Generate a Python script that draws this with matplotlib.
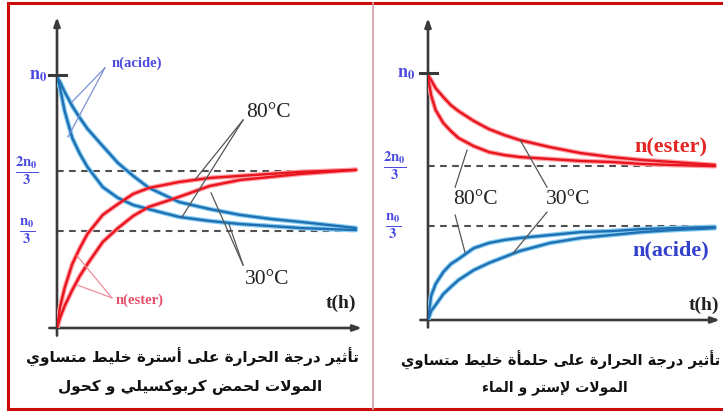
import numpy as np
import matplotlib
matplotlib.use('Agg')
import matplotlib.pyplot as plt

plt.rcParams['mathtext.fontset'] = 'stix'

# time grid (h) shared by the curves of each panel
t_left = [0, 0.1, 0.25, 0.5, 0.75, 1, 1.5, 2, 2.5, 3, 4, 5, 6, 7, 8, 9.8]
acide_30 = [0.992, 0.972, 0.933, 0.877, 0.830, 0.787, 0.719, 0.652, 0.601, 0.555, 0.498, 0.470, 0.447, 0.431, 0.419, 0.395]
acide_80 = [0.988, 0.949, 0.858, 0.751, 0.688, 0.636, 0.557, 0.514, 0.486, 0.470, 0.439, 0.423, 0.411, 0.403, 0.395, 0.387]
ester_80 = [0, 0.083, 0.158, 0.253, 0.316, 0.372, 0.447, 0.490, 0.530, 0.553, 0.577, 0.593, 0.601, 0.609, 0.617, 0.625]
ester_30 = [0, 0.040, 0.087, 0.150, 0.206, 0.253, 0.340, 0.395, 0.443, 0.478, 0.518, 0.561, 0.585, 0.597, 0.609, 0.625]

t_right = [0, 0.1, 0.25, 0.5, 0.75, 1, 1.5, 2, 2.5, 3, 4, 5, 6, 7, 8, 9.4]
hyd_ester_80 = [0.984, 0.911, 0.850, 0.798, 0.765, 0.737, 0.704, 0.680, 0.668, 0.660, 0.652, 0.644, 0.640, 0.632, 0.628, 0.623]
hyd_ester_30 = [0.992, 0.972, 0.939, 0.903, 0.870, 0.846, 0.806, 0.773, 0.749, 0.729, 0.700, 0.676, 0.660, 0.648, 0.640, 0.628]
hyd_acide_80 = [0, 0.097, 0.146, 0.194, 0.227, 0.247, 0.291, 0.312, 0.324, 0.332, 0.344, 0.356, 0.360, 0.368, 0.372, 0.377]
hyd_acide_30 = [0, 0.036, 0.061, 0.105, 0.134, 0.162, 0.202, 0.231, 0.255, 0.279, 0.312, 0.332, 0.344, 0.356, 0.364, 0.372]

# levels as drawn: n0/3, 2n0/3, n0
levels_left = [0.383, 0.620, 1.0]
levels_right = [0.381, 0.623, 1.0]
level_labels = [r'$\frac{\mathbf{n_0}}{\mathbf{3}}$', r'$\frac{\mathbf{2n_0}}{\mathbf{3}}$', r'$\mathbf{n_0}$']

caption_left = ['تأثير درجة الحرارة على أسترة خليط متساوي', 'المولات لحمض كربوكسيلي و كحول']
caption_right = ['تأثير درجة الحرارة على حلمأة خليط متساوي', 'المولات لإستر و الماء']

# --- minimal arabic shaping (matplotlib does no shaping / rtl) ---
FOUR = {'ئ': 0xFE89, 'ب': 0xFE8F, 'ت': 0xFE95, 'ث': 0xFE99, 'ج': 0xFE9D, 'ح': 0xFEA1,
        'خ': 0xFEA5, 'س': 0xFEB1, 'ش': 0xFEB5, 'ص': 0xFEB9, 'ض': 0xFEBD, 'ط': 0xFEC1,
        'ظ': 0xFEC5, 'ع': 0xFEC9, 'غ': 0xFECD, 'ف': 0xFED1, 'ق': 0xFED5, 'ك': 0xFED9,
        'ل': 0xFEDD, 'م': 0xFEE1, 'ن': 0xFEE5, 'ه': 0xFEE9, 'ي': 0xFEF1}
TWO = {'آ': 0xFE81, 'أ': 0xFE83, 'ؤ': 0xFE85, 'إ': 0xFE87, 'ا': 0xFE8D, 'ة': 0xFE93,
       'د': 0xFEA9, 'ذ': 0xFEAB, 'ر': 0xFEAD, 'ز': 0xFEAF, 'و': 0xFEED, 'ى': 0xFEEF}
LAMALEF = {'آ': 0xFEF5, 'أ': 0xFEF7, 'إ': 0xFEF9, 'ا': 0xFEFB}


def shape(s):
    toks = []
    i = 0
    while i < len(s):
        if s[i] == 'ل' and i + 1 < len(s) and s[i + 1] in LAMALEF:
            toks.append('L' + s[i + 1])
            i += 2
        else:
            toks.append(s[i])
            i += 1
    letter = lambda k: k in FOUR or k in TWO or k[0] == 'L' and len(k) == 2
    fwd = lambda k: k in FOUR
    out = ''
    for j, k in enumerate(toks):
        jp = j > 0 and fwd(toks[j - 1]) and letter(k)
        jn = fwd(k) and j + 1 < len(toks) and letter(toks[j + 1])
        if len(k) == 2:
            out += chr(LAMALEF[k[1]] + (1 if jp else 0))
        elif k in FOUR:
            out += chr(FOUR[k] + (3 if jp and jn else 1 if jp else 2 if jn else 0))
        elif k in TWO:
            out += chr(TWO[k] + (1 if jp else 0))
        else:
            out += k
    return out[::-1]


blue_c, blue_h = '#1f6fb2', '#86cdf2'
red_c, red_h = '#e8141e', '#ff9ea4'
axis_c = '#3a3a3a'
lab_c = '#4b4be0'
lead_c = '#555555'


def curve(ax, t, n, c, h):
    ax.plot(t, n, color=h, lw=3.4, solid_capstyle='round', zorder=3)
    ax.plot(t, n, color=c, lw=1.7, solid_capstyle='round', zorder=4)


def frame(ax, tmax, nmax, levels, tdash, lab_x):
    arr = dict(arrowstyle='-|>,head_length=0.5,head_width=0.18', color=axis_c, lw=1.9,
               shrinkA=0, shrinkB=0)
    ax.annotate('', xy=(0, nmax), xytext=(0, -0.03), arrowprops=arr, annotation_clip=False)
    ax.annotate('', xy=(tmax, 0), xytext=(-0.25, 0), arrowprops=arr, annotation_clip=False)
    ax.plot([-0.25, 0.3], [1.0, 1.0], color=axis_c, lw=2.2, clip_on=False, zorder=5)
    for lv in levels[:2]:
        ax.plot([0, tdash], [lv, lv], color='#505050', lw=1.5, ls=(0, (3.2, 2.6)), zorder=2)
    for lv, lab, dx in zip(levels, level_labels, lab_x):
        ax.text(dx, lv, lab, color=lab_c, fontsize=15 if lab.startswith(r'$\frac') else 13,
                ha='center', va='center', clip_on=False)
    ax.set_xlim(0, tmax)
    ax.set_ylim(0, nmax)
    ax.axis('off')


def lead(ax, p0, pts, c):
    for p in pts:
        ax.plot([p0[0], p[0]], [p0[1], p[1]], color=c, lw=0.9, zorder=6)


fig = plt.figure(figsize=(7.23, 4.15), dpi=100)

# overlay for frame lines and captions (pixel coords)
ov = fig.add_axes([0, 0, 1, 1])
ov.set_xlim(0, 723)
ov.set_ylim(415, 0)
ov.axis('off')
ov.plot([8, 723], [3, 3], color='#cc0a0a', lw=2.2)
ov.plot([8, 8], [3, 409], color='#cc0a0a', lw=2.2)
ov.plot([8, 723], [409, 409], color='#cc0a0a', lw=2.2)
ov.plot([373, 373], [3, 409], color='#d9a3ad', lw=1.3)

ar = dict(family='DejaVu Sans', fontweight='bold', color='#111111', ha='center', va='center')
ov.text(192, 357, shape(caption_left[0]), fontsize=11, **ar)
ov.text(190, 387, shape(caption_left[1]), fontsize=11, **ar)
ov.text(561, 360, shape(caption_right[0]), fontsize=10.6, **ar)
ov.text(555, 388, shape(caption_right[1]), fontsize=10, **ar)

serif = dict(family='Liberation Serif', ha='center', va='center')

# left: esterification
axl = fig.add_axes([57 / 723, 87 / 415, 305 / 723, 311 / 415])
frame(axl, 10, 1.229, levels_left, 9.8, [-0.98, -0.98, -0.62])
curve(axl, t_left, acide_30, blue_c, blue_h)
curve(axl, t_left, acide_80, blue_c, blue_h)
curve(axl, t_left, ester_30, red_c, red_h)
curve(axl, t_left, ester_80, red_c, red_h)
axl.text(2.62, 1.047, 'n(acide)', color=lab_c, fontsize=10.5, fontweight='bold', **serif)
lead(axl, (1.57, 1.028), [(0.49, 0.893), (0.36, 0.755)], '#7f8fd6')
axl.text(2.72, 0.111, 'n(ester)', color='#e8506a', fontsize=10.5, fontweight='bold', **serif)
lead(axl, (1.80, 0.119), [(0.66, 0.285), (0.66, 0.17)], '#ee8c9a')
axl.text(6.92, 0.850, '80°C', color='#222222', fontsize=15.5, **serif)
lead(axl, (6.10, 0.822), [(4.10, 0.439), (4.55, 0.590)], lead_c)
axl.text(6.89, 0.190, '30°C', color='#222222', fontsize=15.5, **serif)
lead(axl, (6.10, 0.249), [(5.05, 0.534), (5.64, 0.41)], lead_c)
axl.text(9.31, 0.099, 't(h)', color='#222222', fontsize=14, fontweight='bold', **serif)

# right: hydrolysis
axr = fig.add_axes([428 / 723, 95 / 415, 292 / 723, 302 / 415])
frame(axr, 9.57, 1.223, levels_right, 9.4, [-1.15, -1.08, -0.72])
curve(axr, t_right, hyd_ester_30, red_c, red_h)
curve(axr, t_right, hyd_ester_80, red_c, red_h)
curve(axr, t_right, hyd_acide_30, blue_c, blue_h)
curve(axr, t_right, hyd_acide_80, blue_c, blue_h)
axr.text(7.97, 0.700, 'n(ester)', color='#e32626', fontsize=16, fontweight='bold', **serif)
axr.text(7.97, 0.283, 'n(acide)', color='#3340cc', fontsize=16, fontweight='bold', **serif)
axr.text(1.57, 0.486, '80°C', color='#222222', fontsize=15.5, **serif)
lead(axr, (0.89, 0.538), [(1.28, 0.688)], lead_c)
lead(axr, (0.89, 0.425), [(1.21, 0.275)], lead_c)
axr.text(4.59, 0.486, '30°C', color='#222222', fontsize=15.5, **serif)
lead(axr, (3.90, 0.538), [(3.02, 0.729)], lead_c)
lead(axr, (3.90, 0.437), [(2.79, 0.271)], lead_c)
axr.text(9.05, 0.061, 't(h)', color='#222222', fontsize=14, fontweight='bold', **serif)

fig.savefig('out.png', dpi=100)
